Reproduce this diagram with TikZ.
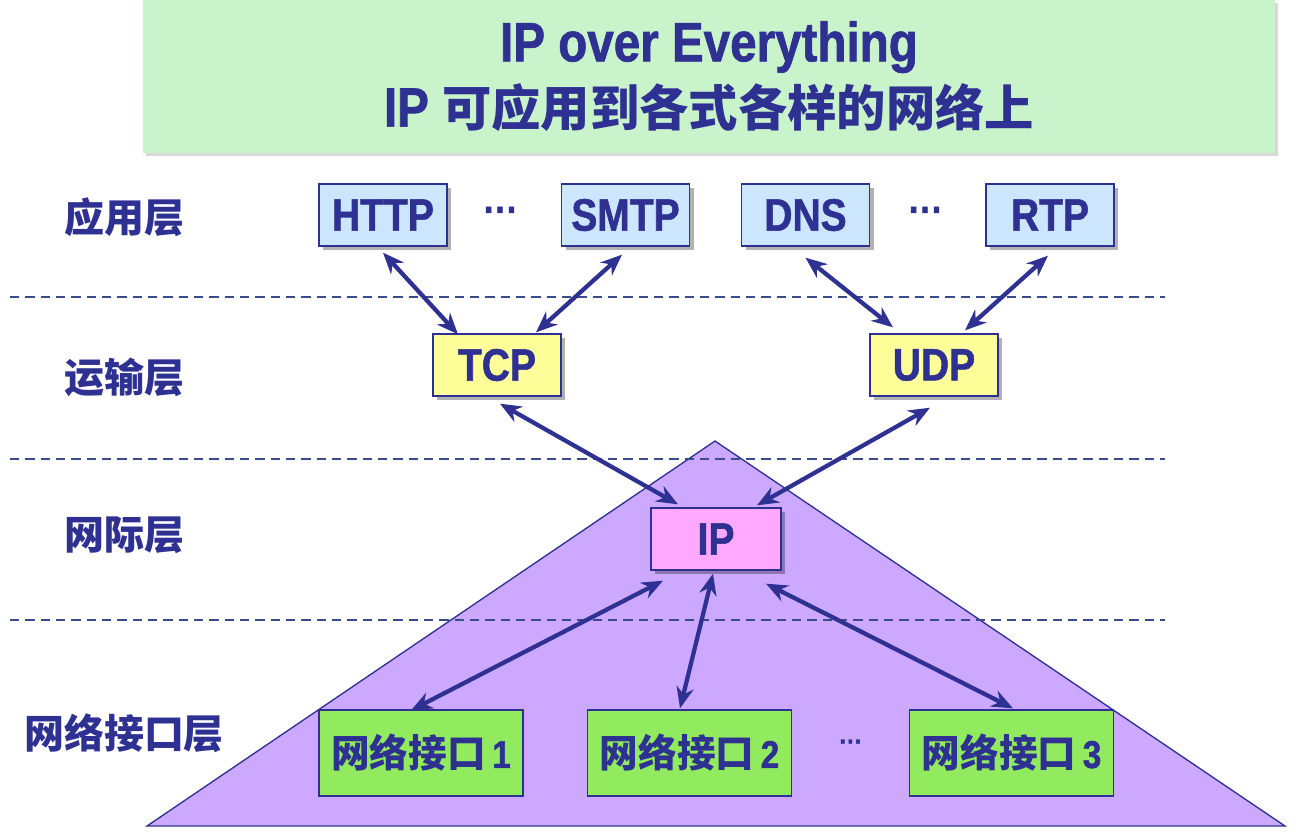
\documentclass[tikz,border=0pt]{standalone}
\usepackage{fontspec}
\setmainfont{Liberation Sans Bold}[FakeStretch=0.86,FakeBold=1.2]
\newfontfamily\cjk{Noto Sans CJK SC}
\usetikzlibrary{arrows.meta,shadows,calc}
\definecolor{navy}{HTML}{2E3192}
\definecolor{bannergreen}{HTML}{C9F3CB}
\definecolor{appblue}{HTML}{CDE6FF}
\definecolor{tyellow}{HTML}{FFFF99}
\definecolor{ippink}{HTML}{FFA8FF}
\definecolor{nigreen}{HTML}{92EB5E}
\definecolor{trpurple}{HTML}{CCA8FF}
\definecolor{dashcol}{HTML}{3A4A8A}
\tikzset{
  shad/.style={drop shadow={shadow xshift=3pt,shadow yshift=-3pt,fill=black,opacity=0.3}},
  basebox/.style={draw=navy,line width=1pt,inner sep=0pt,text=navy,
    font=\fontsize{34}{34}\selectfont\bfseries},
  appbox/.style={basebox,fill=appblue,minimum width=96pt,minimum height=46.5pt,shad},
  tbox/.style={basebox,fill=tyellow,minimum width=96pt,minimum height=46.5pt,shad},
  ipbox/.style={basebox,fill=ippink,minimum width=97.5pt,minimum height=46.5pt,shad},
  nibox/.style={basebox,fill=nigreen,minimum width=153pt,minimum height=64.5pt,
    font=\fontsize{29}{29}\selectfont\bfseries},
  layer/.style={text=navy,font=\fontsize{30}{30}\selectfont\bfseries\cjk,inner sep=0pt},
  dots/.style={text=navy,inner sep=0pt},
  sep/.style={draw=dashcol,line width=1.1pt,dash pattern=on 7pt off 4.5pt},
  conn/.style={{Stealth[length=16pt,width=13pt]}-{Stealth[length=16pt,width=13pt]},
    line width=3.2pt,draw=navy},
}
\begin{document}
\begin{tikzpicture}[x=0.75pt,y=-0.75pt]
\useasboundingbox (0,0) rectangle (1296,833);
% banner
\node[fill=bannergreen,minimum width=849pt,minimum height=114.75pt,inner sep=0pt,
  drop shadow={shadow xshift=2pt,shadow yshift=-2pt,fill=black,opacity=0.15},
  text=navy,align=center,font=\fontsize{41.5}{49}\selectfont\bfseries]
  (banner) at (709,76.5) {IP over Everything\\IP {\cjk\fontsize{37}{49}\selectfont 可应用到各式各样的网络上}};
% triangle
\coordinate (apex) at (715,441);
\coordinate (bl) at (147,826);
\coordinate (br) at (1285,826);
\draw[draw=navy,line width=1pt,fill=trpurple] (apex) -- (bl) -- (br) -- cycle;
% dashed separators
\foreach \y/\n in {297/a,459/b,620/c}{
  \coordinate (s\n l) at (10,\y);
  \coordinate (s\n r) at (1165,\y);
  \draw[sep] (s\n l) -- (s\n r);
}
% layer labels
\node[layer] (lapp) at (124,217) {应用层};
\node[layer] (ltr) at (124,377) {运输层};
\node[layer] (lnet) at (124,535) {网际层};
\node[layer] (lni) at (124,733) {网络接口层};
% boxes
\node[appbox] (http) at (383,215) {HTTP};
\node[appbox] (smtp) at (625.5,215) {SMTP};
\node[appbox] (dns) at (805.5,215) {DNS};
\node[appbox] (rtp) at (1050,215) {RTP};
\node[dots,font=\fontsize{30}{30}\selectfont] (d1) at (501,215) {···};
\node[dots,font=\fontsize{30}{30}\selectfont] (d2) at (926,215) {···};
\node[tbox] (tcp) at (497,365) {TCP};
\node[tbox] (udp) at (934,365) {UDP};
\node[ipbox] (ip) at (716,539) {IP};
\node[nibox] (n1) at (421,753) {{\cjk 网络接口}\,1};
\node[nibox] (n2) at (689.5,753) {{\cjk 网络接口}\,2};
\node[nibox] (n3) at (1011.5,753) {{\cjk 网络接口}\,3};
\node[dots,font=\fontsize{20}{20}\selectfont] (d3) at (851,745) {···};
% connectors
\draw[conn] ($(http.south)+(0,6)$) -- ($(tcp.north)+(-39,1)$);
\draw[conn] ($(smtp.south)+(-3.5,8)$) -- ($(tcp.north)+(39,-1)$);
\draw[conn] ($(dns.south)+(0,11)$) -- ($(udp.north)+(-41,-6)$);
\draw[conn] ($(rtp.south)+(-2,9)$) -- ($(udp.north)+(31,-3)$);
\draw[conn] ($(tcp.south)+(3,7)$) -- ($(ip.north)+(-38,-3)$);
\draw[conn] ($(udp.south)+(-4,11)$) -- ($(ip.north)+(41,-2)$);
\draw[conn] ($(ip.south)+(-53,10)$) -- ($(n1.north)+(-10,1)$);
\draw[conn] ($(ip.south)+(-3,3)$) -- ($(n2.north)+(-9.5,-1)$);
\draw[conn] ($(ip.south)+(50,13)$) -- ($(n3.north)+(1.5,-1)$);
\end{tikzpicture}
\end{document}
